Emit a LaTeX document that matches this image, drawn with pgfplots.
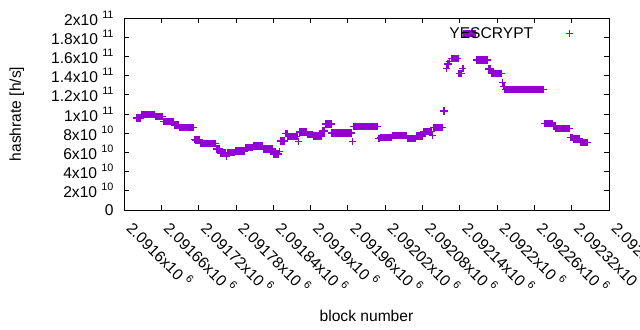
\documentclass[border=0pt]{standalone}
\usepackage{fontspec}
\setmainfont{Liberation Sans}
\usepackage{pgfplots}
\pgfplotsset{compat=1.18}
\definecolor{gpviolet}{HTML}{9400D3}
\newcommand{\sci}[2]{#1x10\ \raisebox{7bp}{\fontsize{10.8bp}{12bp}\selectfont #2}}
\newcommand{\fs}{\fontsize{15.6bp}{18bp}\selectfont}

\begin{document}
\begin{tikzpicture}[font=\fs]
\begin{axis}[
  at={(0,0)}, anchor=south west,
  scale only axis, width=485bp, height=192bp,
  xmin=2091600, xmax=2092380, ymin=0, ymax=20,
  scaled ticks=false,
  xtick={2091600,2091660,2091720,2091780,2091840,2091900,2091960,2092020,2092080,2092140,2092200,2092260,2092320,2092380},
  xticklabels={\sci{2.0916}{6},\sci{2.09166}{6},\sci{2.09172}{6},\sci{2.09178}{6},\sci{2.09184}{6},\sci{2.0919}{6},\sci{2.09196}{6},\sci{2.09202}{6},\sci{2.09208}{6},\sci{2.09214}{6},\sci{2.0922}{6},\sci{2.09226}{6},\sci{2.09232}{6},\sci{2.09238}{6}},
  ytick={0,2,4,6,8,10,12,14,16,18,20},
  yticklabels={0,\sci{2}{10},\sci{4}{10},\sci{6}{10},\sci{8}{10},\sci{1}{11},\sci{1.2}{11},\sci{1.4}{11},\sci{1.6}{11},\sci{1.8}{11},\sci{2}{11}},
  tick align=inside,
  major tick length=5bp,
  tick style={black, line width=0.8bp},
  axis line style={black, line width=0.8bp},
  yticklabel style={font=\fs, xshift=-7bp},
  xticklabel style={font=\fs, inner sep=0pt, xshift=6.5bp, yshift=-14.5bp, rotate=-45, anchor=west},
  xlabel={block number},
  ylabel={hashrate [h/s]},
  xlabel style={font=\fs, at={(axis description cs:0.5,-0.552)}, anchor=center},
  ylabel style={font=\fs, at={(axis description cs:-0.221,0.5)}, anchor=center},
  legend plot pos=right,
  legend cell align=right,
  legend style={draw=none, fill=none, font=\fs, at={(axis description cs:1,1)}, anchor=north east, xshift=-36bp, yshift=-7bp, inner sep=0pt, column sep=0pt},
  legend image code/.code={\path[draw=none] (0bp,0bp) -- (34bp,0bp); \draw[#1, only marks] plot coordinates {(34bp,0bp)};},
]
\addplot[only marks, mark=+, mark size=3.6bp, line width=1.3bp, color=gpviolet] coordinates {
(2091621,9.58) (2091623,9.58) (2091625,9.58) (2091627,9.58)
(2091629,9.95) (2091631,9.95) (2091633,9.95) (2091635,9.95) (2091637,9.95) (2091639,9.95) (2091641,9.95) (2091643,9.95) (2091645,9.95) (2091647,9.95) (2091649,9.95)
(2091651,9.76) (2091653,9.76) (2091655,9.76) (2091657,9.76) (2091659,9.76) (2091661,9.76)
(2091663,9.24) (2091665,9.24) (2091667,9.24) (2091669,9.24) (2091671,9.24) (2091673,9.24) (2091675,9.24) (2091677,9.24) (2091679,9.24)
(2091681,8.85) (2091683,8.85) (2091685,8.85) (2091687,8.85)
(2091689,8.59) (2091691,8.59) (2091693,8.59) (2091695,8.59) (2091697,8.59) (2091699,8.59) (2091701,8.59) (2091703,8.59) (2091705,8.59) (2091707,8.59) (2091709,8.59) (2091711,8.59)
(2091713,7.36)
(2091715,7.29) (2091717,7.29) (2091719,7.29) (2091721,7.29)
(2091723,6.93) (2091725,6.93) (2091727,6.93) (2091729,6.93) (2091731,6.93) (2091733,6.93) (2091735,6.93) (2091737,6.93) (2091739,6.93) (2091741,6.93) (2091743,6.93) (2091745,6.93) (2091747,6.93)
(2091749,6.35) (2091751,6.35) (2091753,6.35)
(2091755,5.94) (2091757,5.94) (2091759,5.94) (2091761,5.94) (2091763,5.94) (2091765,5.63)
(2091767,5.99) (2091769,5.99) (2091771,5.99) (2091773,5.99) (2091775,5.99) (2091777,5.99)
(2091779,6.15) (2091781,6.15) (2091783,6.15) (2091785,6.15) (2091787,6.15) (2091789,6.15) (2091791,6.15) (2091793,6.15)
(2091795,6.51) (2091797,6.51) (2091799,6.51) (2091801,6.51) (2091803,6.51) (2091805,6.51) (2091807,6.51)
(2091809,6.67) (2091811,6.67) (2091813,6.67) (2091815,6.67) (2091817,6.67) (2091819,6.67) (2091821,6.67) (2091823,6.67)
(2091825,6.35) (2091827,6.35) (2091829,6.35) (2091831,6.35) (2091833,6.35) (2091835,6.35) (2091837,6.35) (2091839,6.35)
(2091841,5.83) (2091843,5.83) (2091845,5.83) (2091847,5.83) (2091849,5.83) (2091850,6.07)
(2091852,7.19) (2091854,7.19) (2091856,7.19) (2091858,7.19)
(2091860,7.97) (2091862,7.97)
(2091864,7.66) (2091866,7.66) (2091868,7.66) (2091870,7.66) (2091872,7.66) (2091874,7.66) (2091876,7.66) (2091878,7.66)
(2091881,7.11)
(2091883,8.13) (2091885,8.13) (2091887,8.13) (2091889,8.13) (2091891,8.13) (2091893,8.13)
(2091895,7.86) (2091897,7.86) (2091899,7.86) (2091901,7.86) (2091903,7.86)
(2091905,7.71) (2091907,7.71) (2091909,7.71) (2091911,7.71) (2091913,7.71) (2091915,7.71) (2091917,7.71)
(2091919,8.23) (2091921,8.23) (2091923,8.23)
(2091925,8.96) (2091927,8.96) (2091929,8.96) (2091931,8.96) (2091933,8.96)
(2091934,8.02) (2091936,8.02) (2091938,8.02) (2091940,8.02) (2091942,8.02) (2091944,8.02) (2091946,8.02) (2091948,8.02) (2091950,8.02)
(2091952,8.02) (2091954,8.02) (2091956,8.02) (2091958,8.02) (2091960,8.02) (2091962,8.02) (2091964,8.02) (2091966,8.02)
(2091968,7.11)
(2091970,8.72) (2091972,8.72) (2091974,8.72) (2091976,8.72) (2091978,8.72) (2091980,8.72) (2091982,8.72) (2091984,8.72) (2091986,8.72) (2091988,8.72)
(2091990,8.72) (2091992,8.72) (2091994,8.72) (2091996,8.72) (2091998,8.72) (2092000,8.72) (2092002,8.72) (2092004,8.72) (2092006,8.72) (2092008,8.72)
(2092010,7.47)
(2092012,7.55) (2092014,7.55) (2092016,7.55) (2092018,7.55) (2092020,7.55) (2092022,7.55) (2092024,7.55) (2092026,7.55) (2092028,7.55) (2092030,7.55)
(2092032,7.76) (2092034,7.76) (2092036,7.76) (2092038,7.76) (2092040,7.76) (2092042,7.76) (2092044,7.76) (2092046,7.76) (2092048,7.76) (2092050,7.76) (2092052,7.76) (2092054,7.76)
(2092056,7.45) (2092058,7.45) (2092060,7.45) (2092062,7.45) (2092064,7.45) (2092066,7.45) (2092068,7.45)
(2092070,7.71) (2092072,7.71) (2092074,7.71) (2092076,7.71) (2092078,7.71) (2092080,7.71)
(2092082,8.18) (2092084,8.18) (2092086,8.18) (2092088,8.18) (2092090,8.18) (2092092,8.18) (2092094,8.18) (2092096,7.74)
(2092098,8.59) (2092100,8.59) (2092102,8.59) (2092104,8.59) (2092106,8.59) (2092108,8.59) (2092110,8.59) (2092112,8.59)
(2092114,10.31) (2092116,10.31)
(2092119,14.76) (2092121,15.20) (2092124,15.50)
(2092127,15.80) (2092129,15.80) (2092131,15.80) (2092133,15.80) (2092135,15.80) (2092137,15.80)
(2092139,14.20) (2092141,14.20) (2092143,14.20) (2092145,14.76)
(2092147,18.40) (2092149,18.40) (2092151,18.40) (2092153,18.40) (2092155,18.40) (2092157,18.40) (2092159,18.40) (2092161,18.40) (2092163,18.40) (2092165,18.40)
(2092167,15.62) (2092169,15.62) (2092171,15.62) (2092173,15.62) (2092175,15.62) (2092177,15.62) (2092179,15.62) (2092181,15.62) (2092183,15.62) (2092185,15.62)
(2092187,14.69) (2092189,14.69)
(2092191,14.24) (2092193,14.24) (2092195,14.24) (2092197,14.24) (2092199,14.24) (2092201,14.24) (2092203,14.24) (2092205,14.24) (2092207,14.24)
(2092209,13.26) (2092211,12.86)
(2092213,12.57) (2092215,12.57) (2092217,12.57) (2092219,12.57) (2092221,12.57) (2092223,12.57) (2092225,12.57) (2092227,12.57) (2092229,12.57) (2092231,12.57) (2092233,12.57)
(2092235,12.57) (2092237,12.57) (2092239,12.57) (2092241,12.57) (2092243,12.57) (2092245,12.57) (2092247,12.57) (2092249,12.57) (2092251,12.57) (2092253,12.57) (2092255,12.57)
(2092257,12.57) (2092259,12.57) (2092261,12.57) (2092263,12.57) (2092265,12.57) (2092267,12.57) (2092269,12.57) (2092271,12.57) (2092273,12.57) (2092275,12.57)
(2092277,8.99) (2092279,8.99) (2092281,8.99) (2092283,8.99) (2092285,8.99) (2092287,8.99) (2092289,8.99)
(2092291,8.75) (2092293,8.75)
(2092295,8.49) (2092297,8.49) (2092299,8.49) (2092301,8.49) (2092303,8.49) (2092305,8.49) (2092307,8.49) (2092309,8.49) (2092311,8.49) (2092313,8.49) (2092315,8.49) (2092317,8.49)
(2092319,7.55) (2092321,7.55)
(2092323,7.40) (2092325,7.40) (2092327,7.40) (2092329,7.40) (2092331,7.40) (2092333,7.40)
(2092335,7.03) (2092337,7.03) (2092339,7.03) (2092341,7.03) (2092343,7.03) (2092345,7.03)
};
\addlegendentry{YESCRYPT}
\end{axis}
\pgfresetboundingbox
\useasboundingbox (-124bp,-120bp) rectangle (516bp,210bp);
\end{tikzpicture}
\end{document}
